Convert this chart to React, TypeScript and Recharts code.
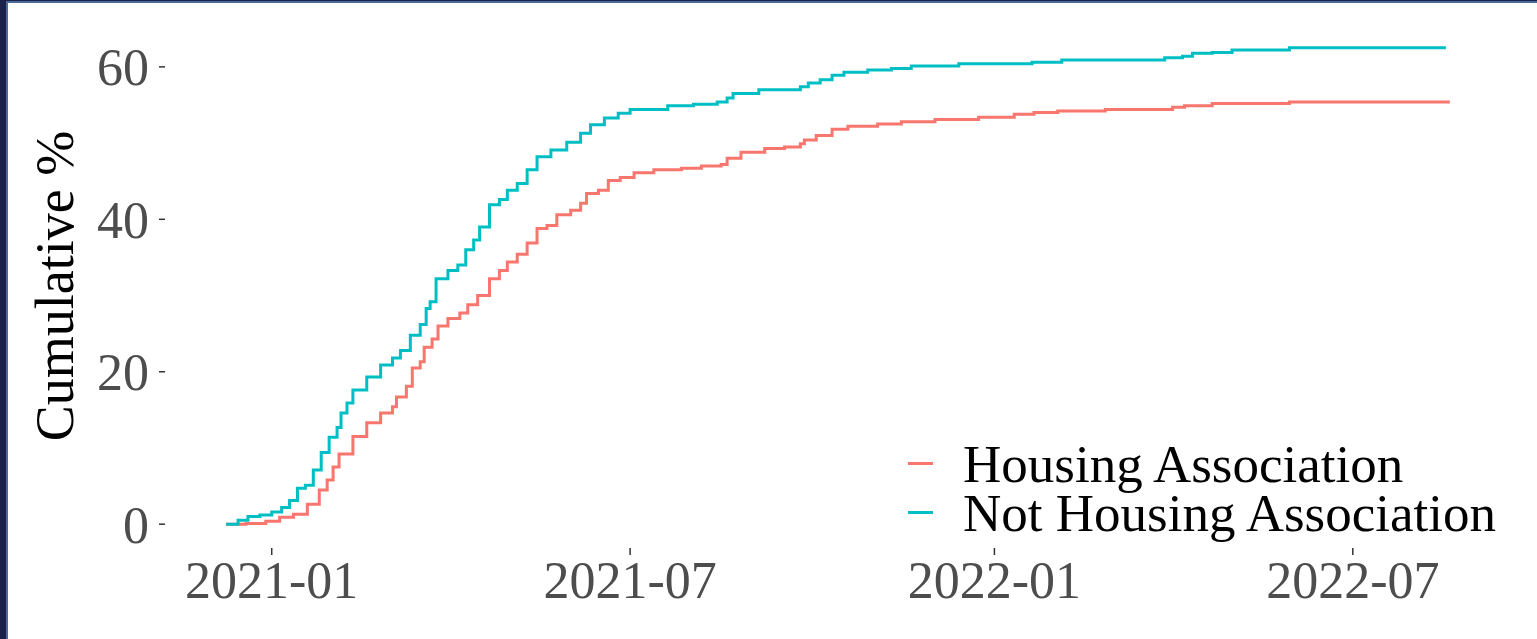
import { LineChart, Line, XAxis, YAxis } from 'recharts';

const haDates = [
  '2020-12-09', '2020-12-19', '2020-12-29', '2021-01-05', '2021-01-12', '2021-01-19', '2021-01-25',
  '2021-01-29', '2021-02-01', '2021-02-04', '2021-02-11', '2021-02-18', '2021-02-25', '2021-03-03',
  '2021-03-05', '2021-03-10', '2021-03-13', '2021-03-17', '2021-03-19', '2021-03-23', '2021-03-26',
  '2021-03-31', '2021-04-06', '2021-04-10', '2021-04-15', '2021-04-21', '2021-04-26', '2021-04-30',
  '2021-05-05', '2021-05-10', '2021-05-15', '2021-05-20', '2021-05-25', '2021-06-01', '2021-06-06',
  '2021-06-09', '2021-06-15', '2021-06-20', '2021-06-26', '2021-07-03', '2021-07-13', '2021-07-27',
  '2021-08-06', '2021-08-16', '2021-08-19', '2021-08-26', '2021-09-07', '2021-09-17', '2021-09-25',
  '2021-09-27', '2021-10-03', '2021-10-11', '2021-10-19', '2021-11-03', '2021-11-15', '2021-12-02',
  '2021-12-24', '2022-01-11', '2022-01-21', '2022-02-02', '2022-02-26', '2022-04-01', '2022-04-07',
  '2022-04-21', '2022-05-30', '2022-08-19',
];
const haValues = [
  0, 0.1, 0.4, 0.9, 1.3, 2.6, 4.5,
  5.8, 7.5, 9.2, 11.5, 13.3, 14.6, 15.4,
  16.7, 18.1, 20.5, 21.3, 23.2, 24.3, 26.0,
  27.0, 27.7, 28.8, 30.0, 32.2, 33.3, 34.4,
  35.4, 36.9, 38.8, 39.2, 40.6, 41.2, 42.1,
  43.4, 43.8, 45.1, 45.5, 46.1, 46.5, 46.7,
  47.0, 47.2, 48.0, 48.8, 49.3, 49.5, 49.9,
  50.4, 51.0, 51.8, 52.2, 52.5, 52.8, 53.1,
  53.4, 53.8, 54.0, 54.2, 54.4, 54.7, 54.9,
  55.2, 55.4, 55.4,
];

const notHaDates = [
  '2020-12-09', '2020-12-15', '2020-12-20', '2020-12-26', '2021-01-01', '2021-01-06', '2021-01-10',
  '2021-01-14', '2021-01-18', '2021-01-22', '2021-01-26', '2021-01-30', '2021-02-03', '2021-02-05',
  '2021-02-08', '2021-02-11', '2021-02-18', '2021-02-25', '2021-03-03', '2021-03-07', '2021-03-12',
  '2021-03-17', '2021-03-20', '2021-03-22', '2021-03-25', '2021-03-31', '2021-04-05', '2021-04-09',
  '2021-04-13', '2021-04-16', '2021-04-21', '2021-04-26', '2021-04-30', '2021-05-05', '2021-05-10',
  '2021-05-15', '2021-05-22', '2021-05-30', '2021-06-06', '2021-06-11', '2021-06-18', '2021-06-25',
  '2021-07-01', '2021-07-20', '2021-08-02', '2021-08-14', '2021-08-19', '2021-08-22', '2021-09-04',
  '2021-09-25', '2021-09-29', '2021-10-05', '2021-10-11', '2021-10-17', '2021-10-29', '2021-11-10',
  '2021-11-20', '2021-12-14', '2022-01-20', '2022-02-04', '2022-03-28', '2022-04-06', '2022-04-11',
  '2022-04-21', '2022-05-01', '2022-05-30', '2022-08-17',
];
const notHaValues = [
  0, 0.5, 1.0, 1.2, 1.6, 2.2, 3.1,
  4.7, 5.1, 7.1, 9.4, 11.4, 12.7, 14.6,
  15.9, 17.6, 19.3, 20.9, 21.8, 22.8, 24.8,
  26.2, 28.3, 29.2, 32.2, 33.3, 34.0, 36.0,
  37.3, 39.0, 41.9, 42.6, 43.8, 44.7, 46.5,
  48.2, 49.1, 50.1, 51.3, 52.4, 53.3, 53.9,
  54.4, 54.9, 55.1, 55.4, 55.9, 56.5, 57.0,
  57.4, 57.9, 58.3, 58.9, 59.3, 59.6, 59.8,
  60.1, 60.4, 60.6, 60.9, 61.2, 61.4, 61.8,
  61.9, 62.2, 62.5, 62.5,
];

const xTicks = ['2021-01-01', '2021-07-01', '2022-01-01', '2022-07-01'];
const yTicks = [0, 20, 40, 60];

const DAY = 86400000;
const toMs = (d: string) => Date.parse(d + 'T00:00:00Z');
const origin = toMs('2021-01-01');

const haData = haDates.map((d, i) => ({ t: toMs(d), v: haValues[i] }));
const notHaData = notHaDates.map((d, i) => ({ t: toMs(d), v: notHaValues[i] }));

const FONT = '"Liberation Serif", "Times New Roman", serif';
const RED = '#F8766D';
const TEAL = '#00BFC4';

const fmtMonth = (ms: number) => {
  const d = new Date(ms);
  return `${d.getUTCFullYear()}-${String(d.getUTCMonth() + 1).padStart(2, '0')}`;
};

function YLabel() {
  return (
    <text
      x={47}
      y={283}
      transform="rotate(-90 47 283)"
      textAnchor="middle"
      dominantBaseline="central"
      fontFamily={FONT}
      fontSize={54}
      fill="#000"
    >
      Cumulative %
    </text>
  );
}

const legendItems = [
  { name: 'Housing Association', color: RED },
  { name: 'Not Housing Association', color: TEAL },
];

export default function App() {
  return (
    <div
      style={{
        position: 'fixed',
        left: 0,
        top: 0,
        width: 1537,
        height: 639,
        background: '#1b2249',
        paddingLeft: 6,
        paddingTop: 1,
        boxSizing: 'border-box',
      }}
    >
      <div
        style={{
          position: 'relative',
          width: 1531,
          height: 638,
          borderLeft: '2px solid #4b6b9b',
          borderTop: '2px solid #4b6b9b',
          background: '#fff',
          boxSizing: 'border-box',
        }}
      >
        <LineChart width={1529} height={636} margin={{ top: 21, right: 26, left: 0, bottom: 31 }}>
          <XAxis
            type="number"
            dataKey="t"
            domain={[origin - 53.9 * DAY, origin + 625.9 * DAY]}
            ticks={xTicks.map(toMs)}
            tickFormatter={fmtMonth}
            axisLine={false}
            tickLine={{ stroke: '#333', strokeWidth: 1.5 }}
            tickSize={7}
            tickMargin={6}
            height={60}
            tick={{ fontFamily: FONT, fontSize: 52, fill: '#4d4d4d' }}
            allowDataOverflow
          />
          <YAxis
            type="number"
            domain={[-3.125, 65.625]}
            ticks={yTicks}
            axisLine={false}
            tickLine={{ stroke: '#333', strokeWidth: 1.5 }}
            tickSize={6}
            tickMargin={10}
            width={157}
            tick={{ fontFamily: FONT, fontSize: 52, fill: '#4d4d4d' }}
            label={<YLabel />}
            allowDataOverflow
          />
          <Line
            data={haData}
            dataKey="v"
            type="stepAfter"
            stroke={RED}
            strokeWidth={3}
            dot={false}
            isAnimationActive={false}
            name="Housing Association"
          />
          <Line
            data={notHaData}
            dataKey="v"
            type="stepAfter"
            stroke={TEAL}
            strokeWidth={3}
            dot={false}
            isAnimationActive={false}
            name="Not Housing Association"
          />
        </LineChart>
        <div
          style={{
            position: 'absolute',
            left: 900,
            top: 436,
            fontFamily: FONT,
            fontSize: 53,
            color: '#000',
            whiteSpace: 'nowrap',
          }}
        >
          {legendItems.map((item) => (
            <div key={item.name} style={{ display: 'flex', alignItems: 'center', height: 49 }}>
              <span
                style={{
                  display: 'inline-block',
                  width: 25,
                  height: 3,
                  background: item.color,
                  marginRight: 30,
                }}
              />
              <span style={{ lineHeight: '46px' }}>{item.name}</span>
            </div>
          ))}
        </div>
      </div>
    </div>
  );
}
